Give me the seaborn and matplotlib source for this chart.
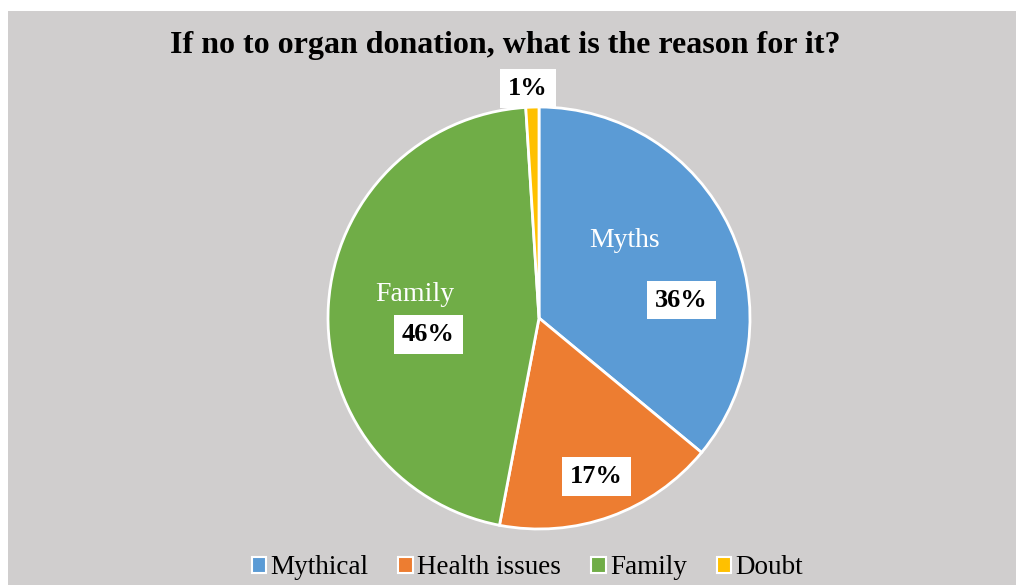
"""
Pie chart: reasons for saying no to organ donation.
"""

import matplotlib.pyplot as plt
import numpy as np
import seaborn as sns
from matplotlib.patches import Patch, Rectangle


# Data
CATEGORIES = ["Mythical", "Health issues", "Family", "Doubt"]
SHARES = [36, 17, 46, 1]
SLICE_NAMES = ["Myths", "", "Family", ""]
COLORS = ["#5B9BD5", "#ED7D31", "#70AD47", "#FFC000"]

TITLE = "If no to organ donation, what is the reason for it?"
BG = "#D0CECE"


def main() -> None:
    sns.set_theme(style="white")
    plt.rcParams["font.family"] = ["Liberation Serif", "DejaVu Serif"]
    plt.rcParams["text.color"] = "black"

    fig = plt.figure(figsize=(10.16, 5.85), dpi=100)
    fig.patch.set_facecolor("white")
    # grey chart area, with a thin white margin at top and left
    fig.add_artist(Rectangle((8 / 1016, 0), 1, 1 - 11 / 585,
                             transform=fig.transFigure, facecolor=BG,
                             edgecolor="none", zorder=0))

    # pie axes: centre (539, 318) px, radius 211 px
    r_px = 211
    cx, cy = 539, 318
    ax = fig.add_axes([(cx - r_px) / 1016, (585 - cy - r_px) / 585,
                       2 * r_px / 1016, 2 * r_px / 585])
    ax.set_facecolor("none")
    wedges, _ = ax.pie(
        SHARES,
        colors=COLORS,
        startangle=90,
        counterclock=False,
        radius=1,
        wedgeprops=dict(edgecolor="white", linewidth=2),
    )
    ax.set_xlim(-1, 1)
    ax.set_ylim(-1, 1)
    ax.set_aspect("auto")
    ax.axis("off")

    # label placement (radius, angle offset in degrees) relative to wedge mid-angle
    pct_pos = [(0.68, -18), (0.80, 0), (0.53, 12), (1.09, 1)]
    name_pos = [(0.55, 17), None, (0.60, -7), None]

    for i, w in enumerate(wedges):
        mid = np.deg2rad((w.theta1 + w.theta2) / 2)
        r, off = pct_pos[i]
        a = mid + np.deg2rad(off)
        ax.text(r * np.cos(a), r * np.sin(a), f"{SHARES[i]}%",
                ha="center", va="center", fontsize=19, fontweight="bold",
                color="black", clip_on=False,
                bbox=dict(boxstyle="square,pad=0.3", facecolor="white",
                          edgecolor="none"))
        if name_pos[i] is not None and SLICE_NAMES[i]:
            r, off = name_pos[i]
            a = mid + np.deg2rad(off)
            ax.text(r * np.cos(a), r * np.sin(a), SLICE_NAMES[i],
                    ha="center", va="center", fontsize=20, color="white")

    fig.text(0.497, 1 - 46 / 585, TITLE, ha="center", va="center",
             fontsize=23, fontweight="bold", color="black")

    handles = [Patch(facecolor=c, edgecolor="white", linewidth=1.5)
               for c in COLORS]
    leg = fig.legend(handles, CATEGORIES, loc="center", ncol=4,
                     bbox_to_anchor=(0.519, 1 - 568 / 585), frameon=False,
                     fontsize=19.5, handlelength=0.55, handleheight=0.55,
                     handletextpad=0.15, columnspacing=1.1)
    for t in leg.get_texts():
        t.set_color("black")

    fig.savefig("out.png", dpi=100, facecolor=fig.get_facecolor())
    plt.close(fig)


if __name__ == "__main__":
    main()
